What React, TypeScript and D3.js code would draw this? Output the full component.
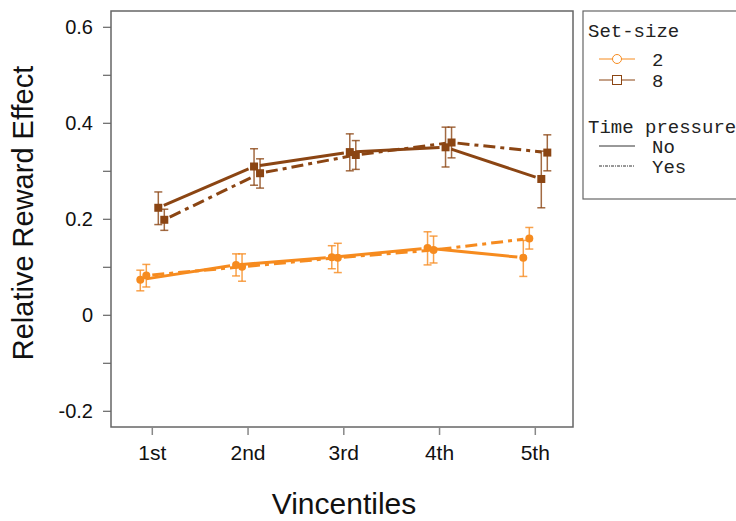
import React from "react";
import * as d3 from "d3";

const vincentiles = ["1st", "2nd", "3rd", "4th", "5th"];
const yTicks = [-0.2, -0.1, 0, 0.1, 0.2, 0.3, 0.4, 0.5, 0.6];
const yLabelTicks = [-0.2, 0, 0.2, 0.4, 0.6];

// set-size 2, no time pressure
const s2NoMean = [0.074, 0.105, 0.121, 0.140, 0.120];
const s2NoLo = [0.051, 0.082, 0.097, 0.105, 0.081];
const s2NoHi = [0.094, 0.128, 0.145, 0.174, 0.156];
// set-size 2, time pressure
const s2YesMean = [0.083, 0.101, 0.120, 0.136, 0.160];
const s2YesLo = [0.059, 0.071, 0.089, 0.109, 0.138];
const s2YesHi = [0.106, 0.128, 0.150, 0.165, 0.183];
// set-size 8, no time pressure
const s8NoMean = [0.224, 0.310, 0.340, 0.350, 0.284];
const s8NoLo = [0.189, 0.271, 0.301, 0.309, 0.224];
const s8NoHi = [0.257, 0.347, 0.378, 0.392, 0.342];
// set-size 8, time pressure
const s8YesMean = [0.199, 0.296, 0.334, 0.360, 0.339];
const s8YesLo = [0.177, 0.265, 0.304, 0.328, 0.301];
const s8YesHi = [0.221, 0.326, 0.364, 0.392, 0.376];

const ORANGE = "#F68B1F";
const BROWN = "#8B4513";
const DASH = "12,5,4,5";

const series = [
  { mean: s2NoMean, lo: s2NoLo, hi: s2NoHi, color: ORANGE, shape: "circle", dash: "", dodge: -12 },
  { mean: s2YesMean, lo: s2YesLo, hi: s2YesHi, color: ORANGE, shape: "circle", dash: DASH, dodge: -6 },
  { mean: s8NoMean, lo: s8NoLo, hi: s8NoHi, color: BROWN, shape: "square", dash: "", dodge: 6 },
  { mean: s8YesMean, lo: s8YesLo, hi: s8YesHi, color: BROWN, shape: "square", dash: DASH, dodge: 12 },
];

const L = 111, R = 573, T = 11, B = 427;

export default function App() {
  const y = d3.scaleLinear().domain([0, 0.6]).range([315.3, 27.3]);
  const x = d3.scaleLinear().domain([0, 4]).range([152.3, 535.3]);
  const gap = 6;

  return (
    <svg width={736} height={521} style={{ position: "absolute", left: 0, top: 0, background: "#fff" }}
      fontFamily="'Liberation Sans', Arial, sans-serif">
      <rect x={L} y={T} width={R - L} height={B - T} fill="none" stroke="#666" strokeWidth={1.5} />
      {yTicks.map((t) => (
        <line key={t} x1={103} x2={L} y1={y(t)} y2={y(t)} stroke="#666" strokeWidth={1.2} />
      ))}
      {yLabelTicks.map((t) => (
        <text key={t} x={93} y={y(t)} dy="0.35em" textAnchor="end" fontSize={20} fill="#111">
          {t === 0 ? "0" : t.toFixed(1)}
        </text>
      ))}
      {vincentiles.map((v, i) => (
        <g key={v}>
          <line x1={x(i)} x2={x(i)} y1={B} y2={435} stroke="#888" strokeWidth={1.5} />
          <text x={x(i)} y={453} dy="0.35em" textAnchor="middle" fontSize={21} fill="#111">{v}</text>
        </g>
      ))}
      <text x={344} y={514} textAnchor="middle" fontSize={30} fill="#111">Vincentiles</text>
      <text transform={`translate(33,213) rotate(-90)`} textAnchor="middle" fontSize={29} fill="#111">
        Relative Reward Effect
      </text>

      {series.map((s, si) => {
        const pts = s.mean.map((m, i) => [x(i) + s.dodge, y(m)] as [number, number]);
        return (
          <g key={si}>
            {pts.slice(1).map((p, i) => {
              const a = pts[i];
              const dx = p[0] - a[0], dy = p[1] - a[1];
              const len = Math.hypot(dx, dy);
              const ux = dx / len, uy = dy / len;
              return (
                <line key={i} x1={a[0] + ux * gap} y1={a[1] + uy * gap} x2={p[0] - ux * gap} y2={p[1] - uy * gap}
                  stroke={s.color} strokeWidth={3} strokeDasharray={s.dash || undefined} />
              );
            })}
            {pts.map((p, i) => (
              <g key={"e" + i} stroke={s.color} strokeOpacity={0.8} strokeWidth={1.5}>
                <line x1={p[0]} x2={p[0]} y1={y(s.lo[i])} y2={y(s.hi[i])} />
                <line x1={p[0] - 4} x2={p[0] + 4} y1={y(s.lo[i])} y2={y(s.lo[i])} />
                <line x1={p[0] - 4} x2={p[0] + 4} y1={y(s.hi[i])} y2={y(s.hi[i])} />
              </g>
            ))}
            {pts.map((p, i) =>
              s.shape === "circle" ? (
                <circle key={"m" + i} cx={p[0]} cy={p[1]} r={4} fill={s.color} />
              ) : (
                <rect key={"m" + i} x={p[0] - 4} y={p[1] - 4} width={8} height={8} fill={s.color} />
              )
            )}
          </g>
        );
      })}

      {/* legend */}
      <g fontFamily="'Liberation Mono', 'Courier New', monospace" fontSize={19} fill="#222">
        <rect x={583} y={11} width={160} height={188} fill="#fff" stroke="#666" strokeWidth={1.2} />
        <text x={588} y={30} dy="0.35em">Set-size</text>
        <line x1={599} x2={635} y1={59} y2={59} stroke={ORANGE} strokeWidth={1} />
        <circle cx={617} cy={59} r={4.5} fill="#fff" stroke={ORANGE} strokeWidth={1} />
        <text x={652} y={59} dy="0.35em">2</text>
        <line x1={599} x2={635} y1={80} y2={80} stroke={BROWN} strokeWidth={1} />
        <rect x={612.5} y={75.5} width={9} height={9} fill="#fff" stroke={BROWN} strokeWidth={1} />
        <text x={652} y={80} dy="0.35em">8</text>
        <text x={588} y={126} dy="0.35em">Time pressure</text>
        <line x1={599} x2={635} y1={146} y2={146} stroke="#333" strokeWidth={1} />
        <text x={652} y={146} dy="0.35em">No</text>
        <line x1={599} x2={635} y1={166} y2={166} stroke="#333" strokeWidth={1} strokeDasharray="3,1,1,1" />
        <text x={652} y={166} dy="0.35em">Yes</text>
      </g>
    </svg>
  );
}
